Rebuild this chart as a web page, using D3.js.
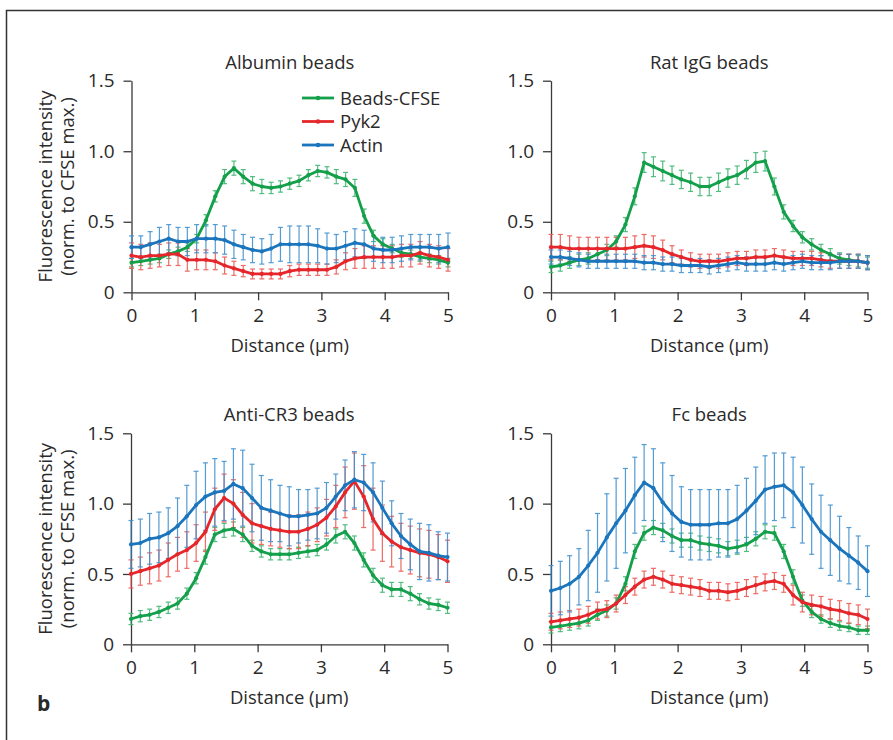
<!DOCTYPE html>
<html><head><meta charset="utf-8">
<script src="https://cdn.jsdelivr.net/npm/d3@7"></script>
<style>
body{margin:0;background:#fff}
svg{display:block}
text{font-family:"Open Sans",sans-serif;fill:#2a2a2a}
</style>
</head><body>
<svg id="chart" width="893" height="740"></svg>
<script>
// ---------- DATA ----------
const distance = [0,0.147,0.294,0.441,0.588,0.735,0.882,1.029,1.176,1.324,1.471,1.618,1.765,1.912,2.059,2.206,2.353,2.5,2.647,2.794,2.941,3.088,3.235,3.382,3.529,3.676,3.824,3.971,4.118,4.265,4.412,4.559,4.706,4.853,5];
const seriesNames = ["Beads-CFSE","Pyk2","Actin"];
const panelTitles = ["Albumin beads","Rat IgG beads","Anti-CR3 beads","Fc beads"];
const xTicks = [0,1,2,3,4,5];
const xTickLabels = ["0","1","2","3","4","5"];
const yTicks = [0,0.5,1.0,1.5];
const yTickLabels = ["0","0.5","1.0","1.5"];

// Albumin beads
const albuminCFSE = [0.21,0.22,0.23,0.24,0.27,0.29,0.32,0.38,0.51,0.68,0.82,0.88,0.82,0.77,0.75,0.74,0.75,0.77,0.79,0.83,0.86,0.85,0.82,0.80,0.74,0.54,0.40,0.34,0.31,0.28,0.27,0.25,0.24,0.23,0.21];
const albuminCFSEErr = [0.03,0.03,0.03,0.03,0.03,0.03,0.03,0.03,0.04,0.04,0.05,0.05,0.05,0.05,0.05,0.04,0.04,0.04,0.04,0.04,0.04,0.04,0.05,0.05,0.06,0.05,0.04,0.04,0.03,0.03,0.03,0.03,0.03,0.03,0.03];
const albuminPyk2 = [0.26,0.25,0.26,0.26,0.27,0.27,0.23,0.23,0.23,0.22,0.19,0.17,0.15,0.13,0.13,0.13,0.13,0.15,0.16,0.16,0.16,0.16,0.18,0.22,0.24,0.25,0.25,0.25,0.25,0.26,0.26,0.28,0.26,0.25,0.23];
const albuminPyk2Err = [0.09,0.09,0.09,0.08,0.08,0.08,0.08,0.07,0.07,0.06,0.06,0.05,0.04,0.035,0.035,0.035,0.035,0.04,0.04,0.04,0.04,0.04,0.05,0.06,0.07,0.08,0.08,0.08,0.08,0.08,0.08,0.08,0.08,0.08,0.08];
const albuminActin = [0.32,0.32,0.34,0.36,0.38,0.36,0.36,0.38,0.38,0.38,0.37,0.34,0.32,0.30,0.29,0.31,0.34,0.34,0.34,0.34,0.33,0.31,0.31,0.33,0.35,0.34,0.31,0.30,0.30,0.31,0.32,0.32,0.32,0.31,0.32];
const albuminActinErr = [0.08,0.08,0.09,0.10,0.10,0.10,0.10,0.10,0.10,0.10,0.10,0.10,0.09,0.09,0.09,0.10,0.12,0.13,0.13,0.13,0.12,0.11,0.10,0.10,0.10,0.10,0.09,0.09,0.09,0.09,0.09,0.09,0.09,0.10,0.10];

// Rat IgG beads
const ratCFSE = [0.18,0.19,0.21,0.23,0.24,0.27,0.30,0.36,0.48,0.68,0.92,0.89,0.86,0.83,0.80,0.78,0.75,0.75,0.78,0.81,0.83,0.87,0.92,0.93,0.75,0.57,0.47,0.39,0.34,0.30,0.27,0.24,0.23,0.22,0.21];
const ratCFSEErr = [0.04,0.04,0.04,0.04,0.04,0.04,0.04,0.04,0.05,0.06,0.07,0.07,0.07,0.065,0.065,0.065,0.065,0.065,0.065,0.065,0.065,0.065,0.07,0.07,0.06,0.05,0.04,0.04,0.04,0.04,0.04,0.04,0.04,0.04,0.04];
const ratPyk2 = [0.32,0.32,0.31,0.31,0.31,0.31,0.31,0.31,0.31,0.32,0.33,0.32,0.30,0.27,0.25,0.23,0.22,0.22,0.22,0.23,0.24,0.24,0.25,0.25,0.26,0.25,0.24,0.24,0.24,0.23,0.22,0.22,0.22,0.22,0.21];
const ratPyk2Err = [0.09,0.09,0.09,0.08,0.08,0.08,0.08,0.08,0.08,0.08,0.08,0.08,0.07,0.06,0.05,0.05,0.05,0.05,0.05,0.05,0.05,0.05,0.05,0.05,0.05,0.05,0.05,0.05,0.05,0.05,0.05,0.05,0.05,0.05,0.05];
const ratActin = [0.25,0.25,0.24,0.23,0.22,0.22,0.22,0.22,0.22,0.22,0.21,0.21,0.20,0.20,0.19,0.19,0.19,0.18,0.19,0.20,0.21,0.20,0.20,0.20,0.21,0.20,0.21,0.22,0.21,0.21,0.21,0.22,0.22,0.22,0.21];
const ratActinErr = [0.05,0.05,0.05,0.05,0.05,0.05,0.05,0.05,0.05,0.05,0.05,0.05,0.05,0.05,0.05,0.05,0.05,0.05,0.05,0.05,0.05,0.05,0.05,0.05,0.05,0.05,0.05,0.05,0.05,0.05,0.05,0.05,0.05,0.05,0.05];

// Anti-CR3 beads
const cr3CFSE = [0.18,0.20,0.21,0.23,0.26,0.29,0.36,0.47,0.62,0.78,0.81,0.82,0.78,0.70,0.66,0.64,0.64,0.64,0.65,0.66,0.67,0.71,0.77,0.80,0.72,0.60,0.49,0.42,0.39,0.39,0.36,0.32,0.29,0.28,0.26];
const cr3CFSEErr = [0.04,0.04,0.04,0.04,0.04,0.04,0.04,0.04,0.05,0.05,0.05,0.05,0.05,0.04,0.04,0.04,0.04,0.04,0.04,0.04,0.04,0.04,0.05,0.05,0.05,0.05,0.05,0.05,0.05,0.05,0.05,0.04,0.04,0.04,0.04];
const cr3Pyk2 = [0.50,0.52,0.54,0.56,0.60,0.64,0.67,0.72,0.80,0.96,1.04,1.00,0.92,0.86,0.84,0.82,0.81,0.80,0.80,0.82,0.85,0.90,0.98,1.08,1.16,1.05,0.89,0.79,0.73,0.69,0.67,0.65,0.64,0.62,0.59];
const cr3Pyk2Err = [0.10,0.10,0.11,0.11,0.12,0.12,0.13,0.13,0.14,0.15,0.17,0.17,0.16,0.14,0.13,0.12,0.12,0.12,0.12,0.12,0.12,0.13,0.15,0.18,0.20,0.22,0.22,0.20,0.18,0.17,0.17,0.17,0.17,0.16,0.15];
const cr3Actin = [0.71,0.72,0.75,0.76,0.79,0.84,0.91,0.99,1.05,1.08,1.09,1.14,1.11,1.04,0.97,0.95,0.93,0.91,0.91,0.92,0.93,0.97,1.05,1.13,1.17,1.15,1.08,0.97,0.86,0.77,0.71,0.66,0.65,0.63,0.62];
const cr3ActinErr = [0.17,0.17,0.18,0.18,0.18,0.20,0.22,0.24,0.24,0.24,0.21,0.25,0.27,0.24,0.23,0.22,0.20,0.21,0.19,0.18,0.18,0.18,0.16,0.18,0.20,0.20,0.21,0.19,0.16,0.16,0.18,0.20,0.20,0.17,0.17];

// Fc beads
const fcCFSE = [0.12,0.13,0.14,0.15,0.17,0.21,0.24,0.29,0.43,0.66,0.79,0.83,0.81,0.77,0.74,0.74,0.72,0.71,0.70,0.68,0.69,0.71,0.75,0.80,0.79,0.66,0.48,0.31,0.23,0.18,0.15,0.13,0.12,0.10,0.10];
const fcCFSEErr = [0.04,0.04,0.04,0.04,0.04,0.04,0.04,0.04,0.05,0.05,0.05,0.05,0.05,0.05,0.05,0.05,0.05,0.05,0.05,0.05,0.05,0.05,0.05,0.05,0.05,0.05,0.05,0.04,0.04,0.03,0.03,0.03,0.03,0.03,0.03];
const fcPyk2 = [0.16,0.17,0.18,0.19,0.21,0.24,0.25,0.29,0.35,0.41,0.46,0.48,0.46,0.43,0.42,0.41,0.40,0.38,0.38,0.37,0.38,0.40,0.42,0.44,0.45,0.43,0.35,0.30,0.28,0.27,0.25,0.24,0.22,0.21,0.18];
const fcPyk2Err = [0.06,0.06,0.06,0.06,0.06,0.06,0.06,0.06,0.06,0.06,0.06,0.06,0.06,0.06,0.06,0.06,0.06,0.06,0.06,0.06,0.06,0.06,0.06,0.06,0.06,0.06,0.07,0.07,0.07,0.07,0.07,0.07,0.07,0.07,0.07];
const fcActin = [0.38,0.40,0.43,0.48,0.56,0.65,0.76,0.86,0.95,1.06,1.15,1.11,1.01,0.93,0.87,0.85,0.85,0.85,0.86,0.86,0.89,0.95,1.02,1.10,1.12,1.13,1.08,0.99,0.89,0.80,0.74,0.68,0.63,0.58,0.52];
const fcActinErr = [0.18,0.19,0.20,0.20,0.25,0.28,0.31,0.32,0.30,0.27,0.27,0.28,0.28,0.27,0.25,0.25,0.25,0.25,0.24,0.24,0.24,0.23,0.24,0.24,0.24,0.23,0.25,0.27,0.25,0.26,0.25,0.23,0.20,0.19,0.18];

// ---------- LAYOUT / STYLE ----------
const lineColors = ["#14a04a","#e5262b","#1b75bc"];
const errColors  = ["#3fb672","#ec5a55","#4191cf"];
const panels = [
  {title:panelTitles[0], x0:131.5, x1:448, yb:292.3, yt:80.7, yLabel:true,
   s:[[albuminCFSE,albuminCFSEErr],[albuminPyk2,albuminPyk2Err],[albuminActin,albuminActinErr]]},
  {title:panelTitles[1], x0:551, x1:867.5, yb:292.3, yt:80.7, yLabel:false,
   s:[[ratCFSE,ratCFSEErr],[ratPyk2,ratPyk2Err],[ratActin,ratActinErr]]},
  {title:panelTitles[2], x0:131, x1:447.5, yb:644.3, yt:433.3, yLabel:true,
   s:[[cr3CFSE,cr3CFSEErr],[cr3Pyk2,cr3Pyk2Err],[cr3Actin,cr3ActinErr]]},
  {title:panelTitles[3], x0:551, x1:867.5, yb:644.3, yt:433.3, yLabel:false,
   s:[[fcCFSE,fcCFSEErr],[fcPyk2,fcPyk2Err],[fcActin,fcActinErr]]}
];
const FS = 19, LFS = 18.5;

const svg = d3.select("#chart");
svg.append("rect").attr("x",6.5).attr("y",10.5).attr("width",1000).attr("height",1000)
  .attr("fill","none").attr("stroke","#333").attr("stroke-width",1.5);

panels.forEach((p,pi)=>{
  const x = d3.scaleLinear().domain([0,5]).range([p.x0,p.x1]);
  const y = d3.scaleLinear().domain([0,1.5]).range([p.yb,p.yt]);
  const g = svg.append("g");

  // axes
  const xa = g.append("g").attr("transform",`translate(0,${p.yb})`)
    .call(d3.axisBottom(x).tickValues(xTicks).tickFormat((d,i)=>xTickLabels[i]).tickSize(8).tickSizeOuter(0).tickPadding(8));
  const ya = g.append("g").attr("transform",`translate(${p.x0},0)`)
    .call(d3.axisLeft(y).tickValues(yTicks).tickFormat((d,i)=>yTickLabels[i]).tickSize(8).tickSizeOuter(0).tickPadding(9));
  [xa,ya].forEach(a=>{
    a.select(".domain").attr("stroke","#3a3a3a").attr("stroke-width",1.3);
    a.selectAll(".tick line").attr("stroke","#3a3a3a").attr("stroke-width",1.3);
    a.selectAll(".tick text").attr("font-size",FS).attr("font-family",'"Open Sans",sans-serif').attr("fill","#2a2a2a");
  });

  // title
  g.append("text").attr("x",(p.x0+p.x1)/2).attr("y",p.yt-12).attr("text-anchor","middle")
    .attr("font-size",LFS).text(p.title);
  // x label
  g.append("text").attr("x",(p.x0+p.x1)/2).attr("y",p.yb+60).attr("text-anchor","middle")
    .attr("font-size",LFS).text("Distance (µm)");
  // y label
  if(p.yLabel){
    const cy = (p.yb+p.yt)/2;
    g.append("text").attr("transform",`translate(52,${cy}) rotate(-90)`).attr("text-anchor","middle")
      .attr("font-size",LFS).text("Fluorescence intensity");
    g.append("text").attr("transform",`translate(74,${cy}) rotate(-90)`).attr("text-anchor","middle")
      .attr("font-size",LFS).text("(norm. to CFSE max.)");
  }

  // error bars
  p.s.forEach((s,si)=>{
    const [vals,errs] = s;
    const eb = g.append("g").attr("stroke",errColors[si]).attr("stroke-width",1.2).attr("opacity",0.9);
    vals.forEach((v,i)=>{
      const cx = x(distance[i]), t = y(v+errs[i]), b = y(v-errs[i]);
      eb.append("line").attr("x1",cx).attr("x2",cx).attr("y1",t).attr("y2",b);
      eb.append("line").attr("x1",cx-2.5).attr("x2",cx+2.5).attr("y1",t).attr("y2",t);
      eb.append("line").attr("x1",cx-2.5).attr("x2",cx+2.5).attr("y1",b).attr("y2",b);
    });
  });
  // lines
  const line = d3.line().x((d,i)=>x(distance[i])).y(d=>y(d)).curve(d3.curveLinear);
  p.s.forEach((s,si)=>{
    const vals = s[0];
    g.append("path").datum(vals).attr("d",line).attr("fill","none")
      .attr("stroke",lineColors[si]).attr("stroke-width",2.8).attr("stroke-linejoin","round");
    g.append("g").selectAll("circle").data(vals).join("circle")
      .attr("cx",(d,i)=>x(distance[i])).attr("cy",d=>y(d)).attr("r",2.1).attr("fill",lineColors[si]);
  });

  // legend
  if(pi===0){
    const lg = svg.append("g");
    seriesNames.forEach((n,si)=>{
      const ly = 98 + si*23.5;
      lg.append("line").attr("x1",302).attr("x2",334).attr("y1",ly).attr("y2",ly)
        .attr("stroke",lineColors[si]).attr("stroke-width",2.8);
      lg.append("circle").attr("cx",318).attr("cy",ly).attr("r",2.3).attr("fill",lineColors[si]);
      lg.append("text").attr("x",340).attr("y",ly+6.5).attr("font-size",LFS).text(n);
    });
  }
});

svg.append("text").attr("x",37).attr("y",711).attr("font-size",21).attr("font-weight","bold").text("b");
</script>
</body></html>
